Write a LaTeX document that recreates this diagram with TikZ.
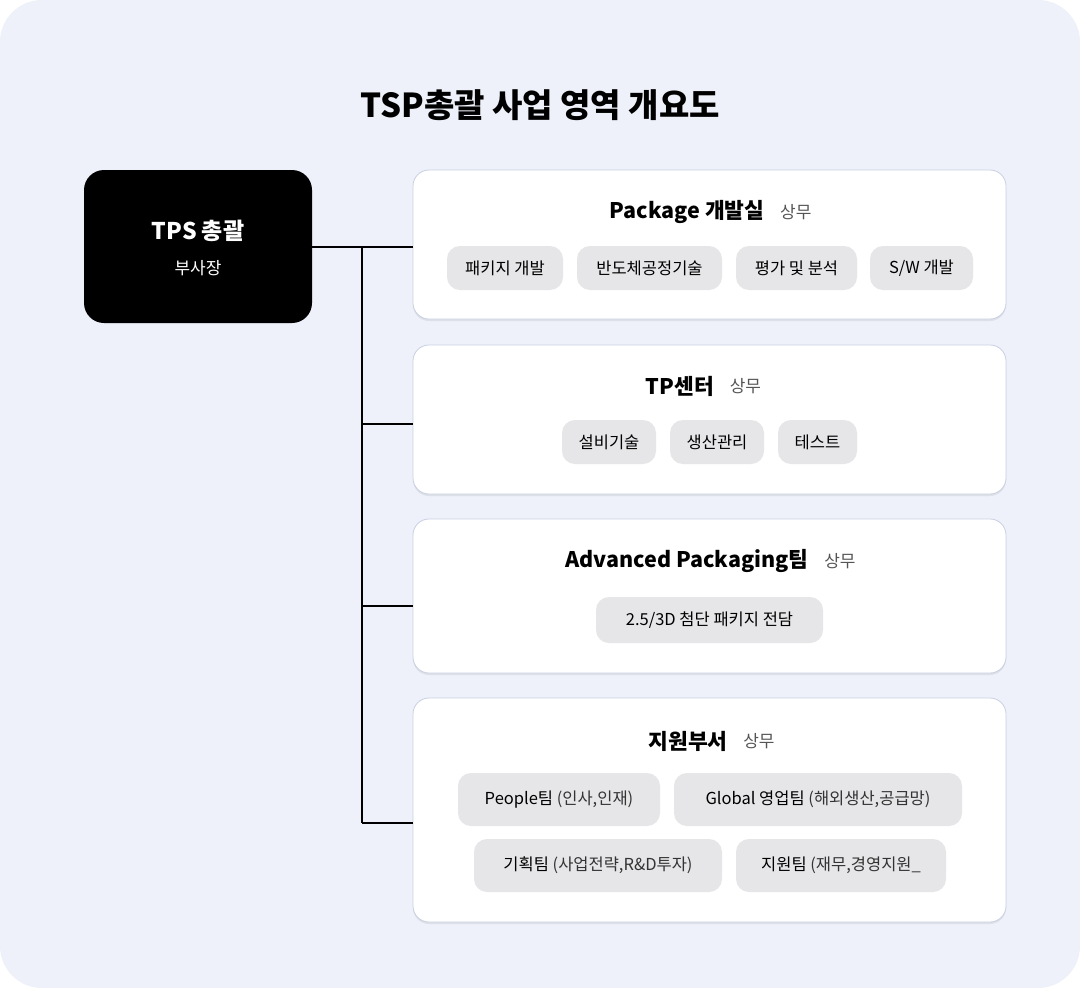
\documentclass[tikz,border=0pt]{standalone}
\usepackage{fontspec}
\setmainfont{Noto Sans CJK KR}
\usetikzlibrary{shadows}
\definecolor{bg}{HTML}{EEF1F9}
\definecolor{chip}{HTML}{E6E6E8}
\definecolor{sub}{HTML}{555555}
\definecolor{bord}{HTML}{C9D0E3}
\begin{document}
\begin{tikzpicture}[x=1pt,y=-1pt,
  card/.style={draw=bord,line width=0.8pt,fill=white,rounded corners=16pt,drop shadow={shadow xshift=0pt,shadow yshift=-2pt,opacity=0.12,fill=black!60}},
  ch/.style={fill=chip,rounded corners=13pt,inner sep=0pt,font=\fontsize{16.5}{18}\selectfont,text=black},
  ttl/.style={font=\bfseries\fontsize{21.5}{24}\selectfont,inner sep=0pt},
  con/.style={line width=1.6pt,black}]
\useasboundingbox (0,0) rectangle (1080,988);
\fill[white] (0,0) rectangle (1080,988);
\fill[bg,rounded corners=42pt] (0,0) rectangle (1080,988);
\node[font=\bfseries\fontsize{33}{36}\selectfont] (title) at (540,105) {TSP총괄 사업 영역 개요도};
% main box
\node[fill=black,rounded corners=20pt,minimum width=228pt,minimum height=153pt,inner sep=0pt] (tps) at (198,246.5) {};
\node[text=white,font=\bfseries\fontsize{23}{26}\selectfont] (tpsn) at (198,231) {TPS 총괄};
\node[text=white,font=\fontsize{17}{20}\selectfont] (tpsr) at (198,268) {부사장};
% cards
\node[card,minimum width=593pt,minimum height=149pt,inner sep=0pt] (b1) at (709.5,244.5) {};
\node[card,minimum width=593pt,minimum height=149pt,inner sep=0pt] (b2) at (709.5,419.5) {};
\node[card,minimum width=593pt,minimum height=154pt,inner sep=0pt] (b3) at (709.5,596) {};
\node[card,minimum width=593pt,minimum height=224pt,inner sep=0pt] (b4) at (709.5,810) {};
% titles
\node[ttl] (t1) at (687,212) {Package 개발실};
\node[anchor=west,font=\fontsize{17}{20}\selectfont,text=sub] (s1) at ([xshift=12pt]t1.east) {상무};
\node[ttl] (t2) at (680,386) {TP센터};
\node[anchor=west,font=\fontsize{17}{20}\selectfont,text=sub] (s2) at ([xshift=12pt]t2.east) {상무};
\node[ttl] (t3) at (687,561) {Advanced Packaging팀};
\node[anchor=west,font=\fontsize{17}{20}\selectfont,text=sub] (s3) at ([xshift=12pt]t3.east) {상무};
\node[ttl] (t4) at (688,741) {지원부서};
\node[anchor=west,font=\fontsize{17}{20}\selectfont,text=sub] (s4) at ([xshift=12pt]t4.east) {상무};
% chips
\node[ch,minimum width=116pt,minimum height=44pt] (c11) at (505,268) {패키지 개발};
\node[ch,minimum width=145pt,minimum height=44pt] (c12) at (649.5,268) {반도체공정기술};
\node[ch,minimum width=121pt,minimum height=44pt] (c13) at (796.5,268) {평가 및 분석};
\node[ch,minimum width=103pt,minimum height=44pt] (c14) at (921.5,268) {S/W 개발};
\node[ch,minimum width=94pt,minimum height=44pt] (c21) at (609,442) {설비기술};
\node[ch,minimum width=94pt,minimum height=44pt] (c22) at (717,442) {생산관리};
\node[ch,minimum width=79pt,minimum height=44pt] (c23) at (817.5,442) {테스트};
\node[ch,minimum width=227pt,minimum height=46pt] (c31) at (709.5,620) {2.5/3D 첨단 패키지 전담};
\node[ch,minimum width=202pt,minimum height=53pt] (c41) at (559,799.5) {People팀 {\color{black!80}(인사,인재)}};
\node[ch,minimum width=288pt,minimum height=53pt] (c42) at (818,799.5) {Global 영업팀 {\color{black!80}(해외생산,공급망)}};
\node[ch,minimum width=248pt,minimum height=53pt] (c43) at (598,865.5) {기획팀 {\color{black!80}(사업전략,R\&D투자)}};
\node[ch,minimum width=210pt,minimum height=53pt] (c44) at (841,865.5) {지원팀 {\color{black!80}(재무,경영지원\_}};
% connectors
\coordinate (j1) at (362,247);
\coordinate (j2) at (362,424);
\coordinate (j3) at (362,606);
\coordinate (j4) at (362,823);
\draw[con] (tps.east |- j1) -- (j1);
\draw[con] (j1) -- (j4);
\draw[con] (j1) -- (j1 -| b1.west);
\draw[con] (j2) -- (j2 -| b2.west);
\draw[con] (j3) -- (j3 -| b3.west);
\draw[con] (j4) -- (j4 -| b4.west);
\end{tikzpicture}
\end{document}
